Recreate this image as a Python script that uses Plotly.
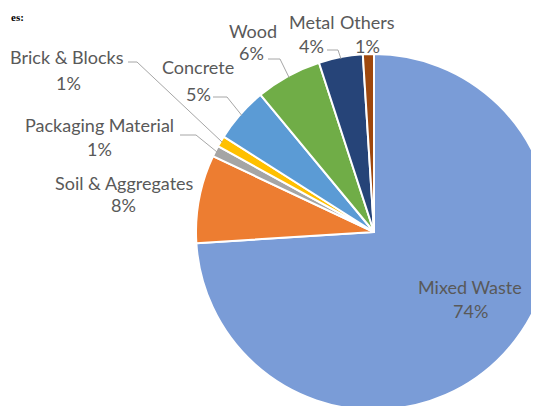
import math
import plotly.graph_objects as go

categories = ["Mixed Waste", "Soil & Aggregates", "Packaging Material", "Brick & Blocks",
              "Concrete", "Wood", "Metal", "Others"]
values = [74, 8, 1, 1, 5, 6, 4, 1]
colors = ["#7A9CD7", "#ED7D31", "#A5A5A5", "#FFC000", "#5B9BD5", "#70AD47", "#264478", "#9E480E"]

OFF = 8                      # page body margin (px)
CX, CY, R = 374, 232, 178    # pie centre / radius in window px
W = CX + R - OFF             # figure size so the pie touches right / bottom
H = CY + R - OFF

def px2paper(x, y):
    return (x - OFF) / W, 1 - (y - OFF) / H

x0, _ = px2paper(CX - R, 0)
_, y1 = px2paper(0, CY - R)

fig = go.Figure(go.Pie(
    labels=categories, values=values, sort=False, direction="clockwise", rotation=0,
    marker=dict(colors=colors, line=dict(color="white", width=2)),
    textinfo="none", hoverinfo="label+percent", showlegend=False,
    domain=dict(x=[x0, 1.0], y=[0.0, y1]),
))

# slice mid angles from data
total = sum(values)
mids = []
cum = 0
for v in values:
    mids.append((cum + v / 2) / total * 360)
    cum += v

def edge_point(i, k=1.0):
    a = math.radians(mids[i])
    return CX + R * k * math.sin(a), CY - R * k * math.cos(a)

font = dict(family="Lato, Open Sans, sans-serif", size=18, color="#595959")
anns = []
shapes = []

# label positions (text centre, px): (index, x1, y_line1, x2, y_line2, elbow-start, elbow)
labels_pos = [
    (0, 470, 287, 470, 311, None, None),
    (1, 124, 183, 123, 205, None, None),
    (2, 99, 125, 99, 149, (180, 135), (196, 135)),
    (3, 67, 57, 68, 83, (128, 62), (137, 62)),
    (4, 198, 67, 198, 94, (213, 97), (227, 97)),
    (5, 253, 31, 251, 53, (268, 59), (280, 59)),
    (6, 312, 22, 311, 46, (327, 50), (338, 50)),
    (7, 367, 22, 367, 46, None, None),
]
for i, xa, ya, xb, yb, s0, s1 in labels_pos:
    name = categories[i]
    pct = f"{values[i] / total * 100:.0f}%"
    for txt, xx, yy in ((name, xa, ya), (pct, xb, yb)):
        px_, py_ = px2paper(xx, yy)
        anns.append(dict(x=px_, y=py_, xref="paper", yref="paper", text=txt, showarrow=False,
                         font=font, xanchor="center", yanchor="middle"))
    if s0 is not None:
        ex, ey = edge_point(i, 0.99)
        pts = [s0, s1, (ex, ey)]
        path = "M " + " L ".join(f"{px2paper(a, b)[0]},{px2paper(a, b)[1]}" for a, b in pts)
        shapes.append(dict(type="path", path=path, xref="paper", yref="paper",
                           line=dict(color="#A6A6A6", width=1)))

# title remnant at the top-left
tx, ty = px2paper(9, 9)
anns.append(dict(x=tx, y=ty, xref="paper", yref="paper", text="<b>es:</b>", showarrow=False,
                 font=dict(family="Liberation Serif, serif", size=11, color="black"),
                 xanchor="left", yanchor="top"))

fig.update_layout(width=W, height=H, margin=dict(l=0, r=0, t=0, b=0),
                  paper_bgcolor="white", plot_bgcolor="white",
                  annotations=anns, shapes=shapes)
fig.write_html("out.html")
